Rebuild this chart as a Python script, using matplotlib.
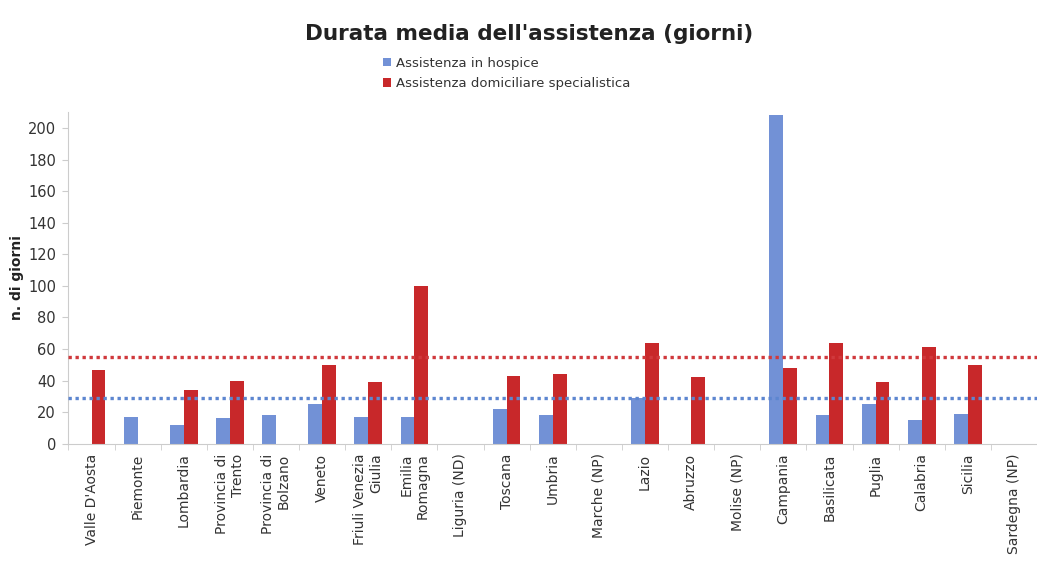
import numpy as np
import matplotlib.pyplot as plt

# Regioni e durata media (giorni) per tipo di assistenza
regioni = ["Valle D'Aosta", "Piemonte", "Lombardia", "Provincia di\nTrento",
           "Provincia di\nBolzano", "Veneto", "Friuli Venezia\nGiulia",
           "Emilia\nRomagna", "Liguria (ND)", "Toscana", "Umbria",
           "Marche (NP)", "Lazio", "Abruzzo", "Molise (NP)", "Campania",
           "Basilicata", "Puglia", "Calabria", "Sicilia", "Sardegna (NP)"]
hospice = [np.nan, 17, 12, 16, 18, 25, 17, 17, np.nan, 22, 18,
           np.nan, 29, np.nan, np.nan, 208, 18, 25, 15, 19, np.nan]
domiciliare = [47, np.nan, 34, 40, np.nan, 50, 39, 100, np.nan, 43, 44,
               np.nan, 64, 42, np.nan, 48, 64, 39, 61, 50, np.nan]
media_hospice = 29
media_domiciliare = 55

blu = '#7291d6'
rosso = '#c8282a'

fig = plt.figure(figsize=(10.37, 5.61), dpi=100)
ax = fig.add_axes([0.066, 0.209, 0.934, 0.591])

x = np.arange(len(regioni))
w = 0.3
ax.bar(x - w / 2, hospice, width=w, color=blu, label='Assistenza in hospice')
ax.bar(x + w / 2, domiciliare, width=w, color=rosso,
       label='Assistenza domiciliare specialistica')

# linee delle medie
ax.axhline(media_domiciliare, color='#d0393c', lw=2.4, ls=(0, (1, 1.1)), zorder=3)
ax.axhline(media_hospice, color='#5d86d0', lw=2.4, ls=(0, (1, 1.1)), zorder=3)

ax.set_xlim(-0.5, len(regioni) - 0.5)
ax.set_ylim(0, 210)
ax.set_yticks(np.arange(0, 201, 20))
ax.tick_params(axis='y', labelsize=10.5, color='#cccccc', length=4, pad=5,
               labelcolor='#333333')

ax.set_xticks(x)
ax.set_xticklabels(regioni, rotation=90, fontsize=10, ha='center', va='top',
                   multialignment='right', color='#333333')
ax.tick_params(axis='x', length=0, pad=7)
ax.set_xticks(np.arange(-0.5, len(regioni), 1), minor=True)
ax.tick_params(axis='x', which='minor', length=4, color='#cccccc')

for s in ['top', 'right']:
    ax.spines[s].set_visible(False)
for s in ['left', 'bottom']:
    ax.spines[s].set_color('#cccccc')

ax.set_ylabel('n. di giorni', fontsize=10, fontweight='bold', labelpad=3,
              color='#222222')

fig.text(0.51, 0.94, "Durata media dell'assistenza (giorni)", ha='center',
         va='center', fontsize=15.5, fontweight='bold', color='#222222')
fig.legend(loc='upper left', bbox_to_anchor=(0.364, 0.908), frameon=False,
           fontsize=9.5, handlelength=0.6, handleheight=0.6, handletextpad=0.4,
           labelspacing=0.55, borderaxespad=0, labelcolor='#333333')

fig.savefig('out.png', dpi=100)
